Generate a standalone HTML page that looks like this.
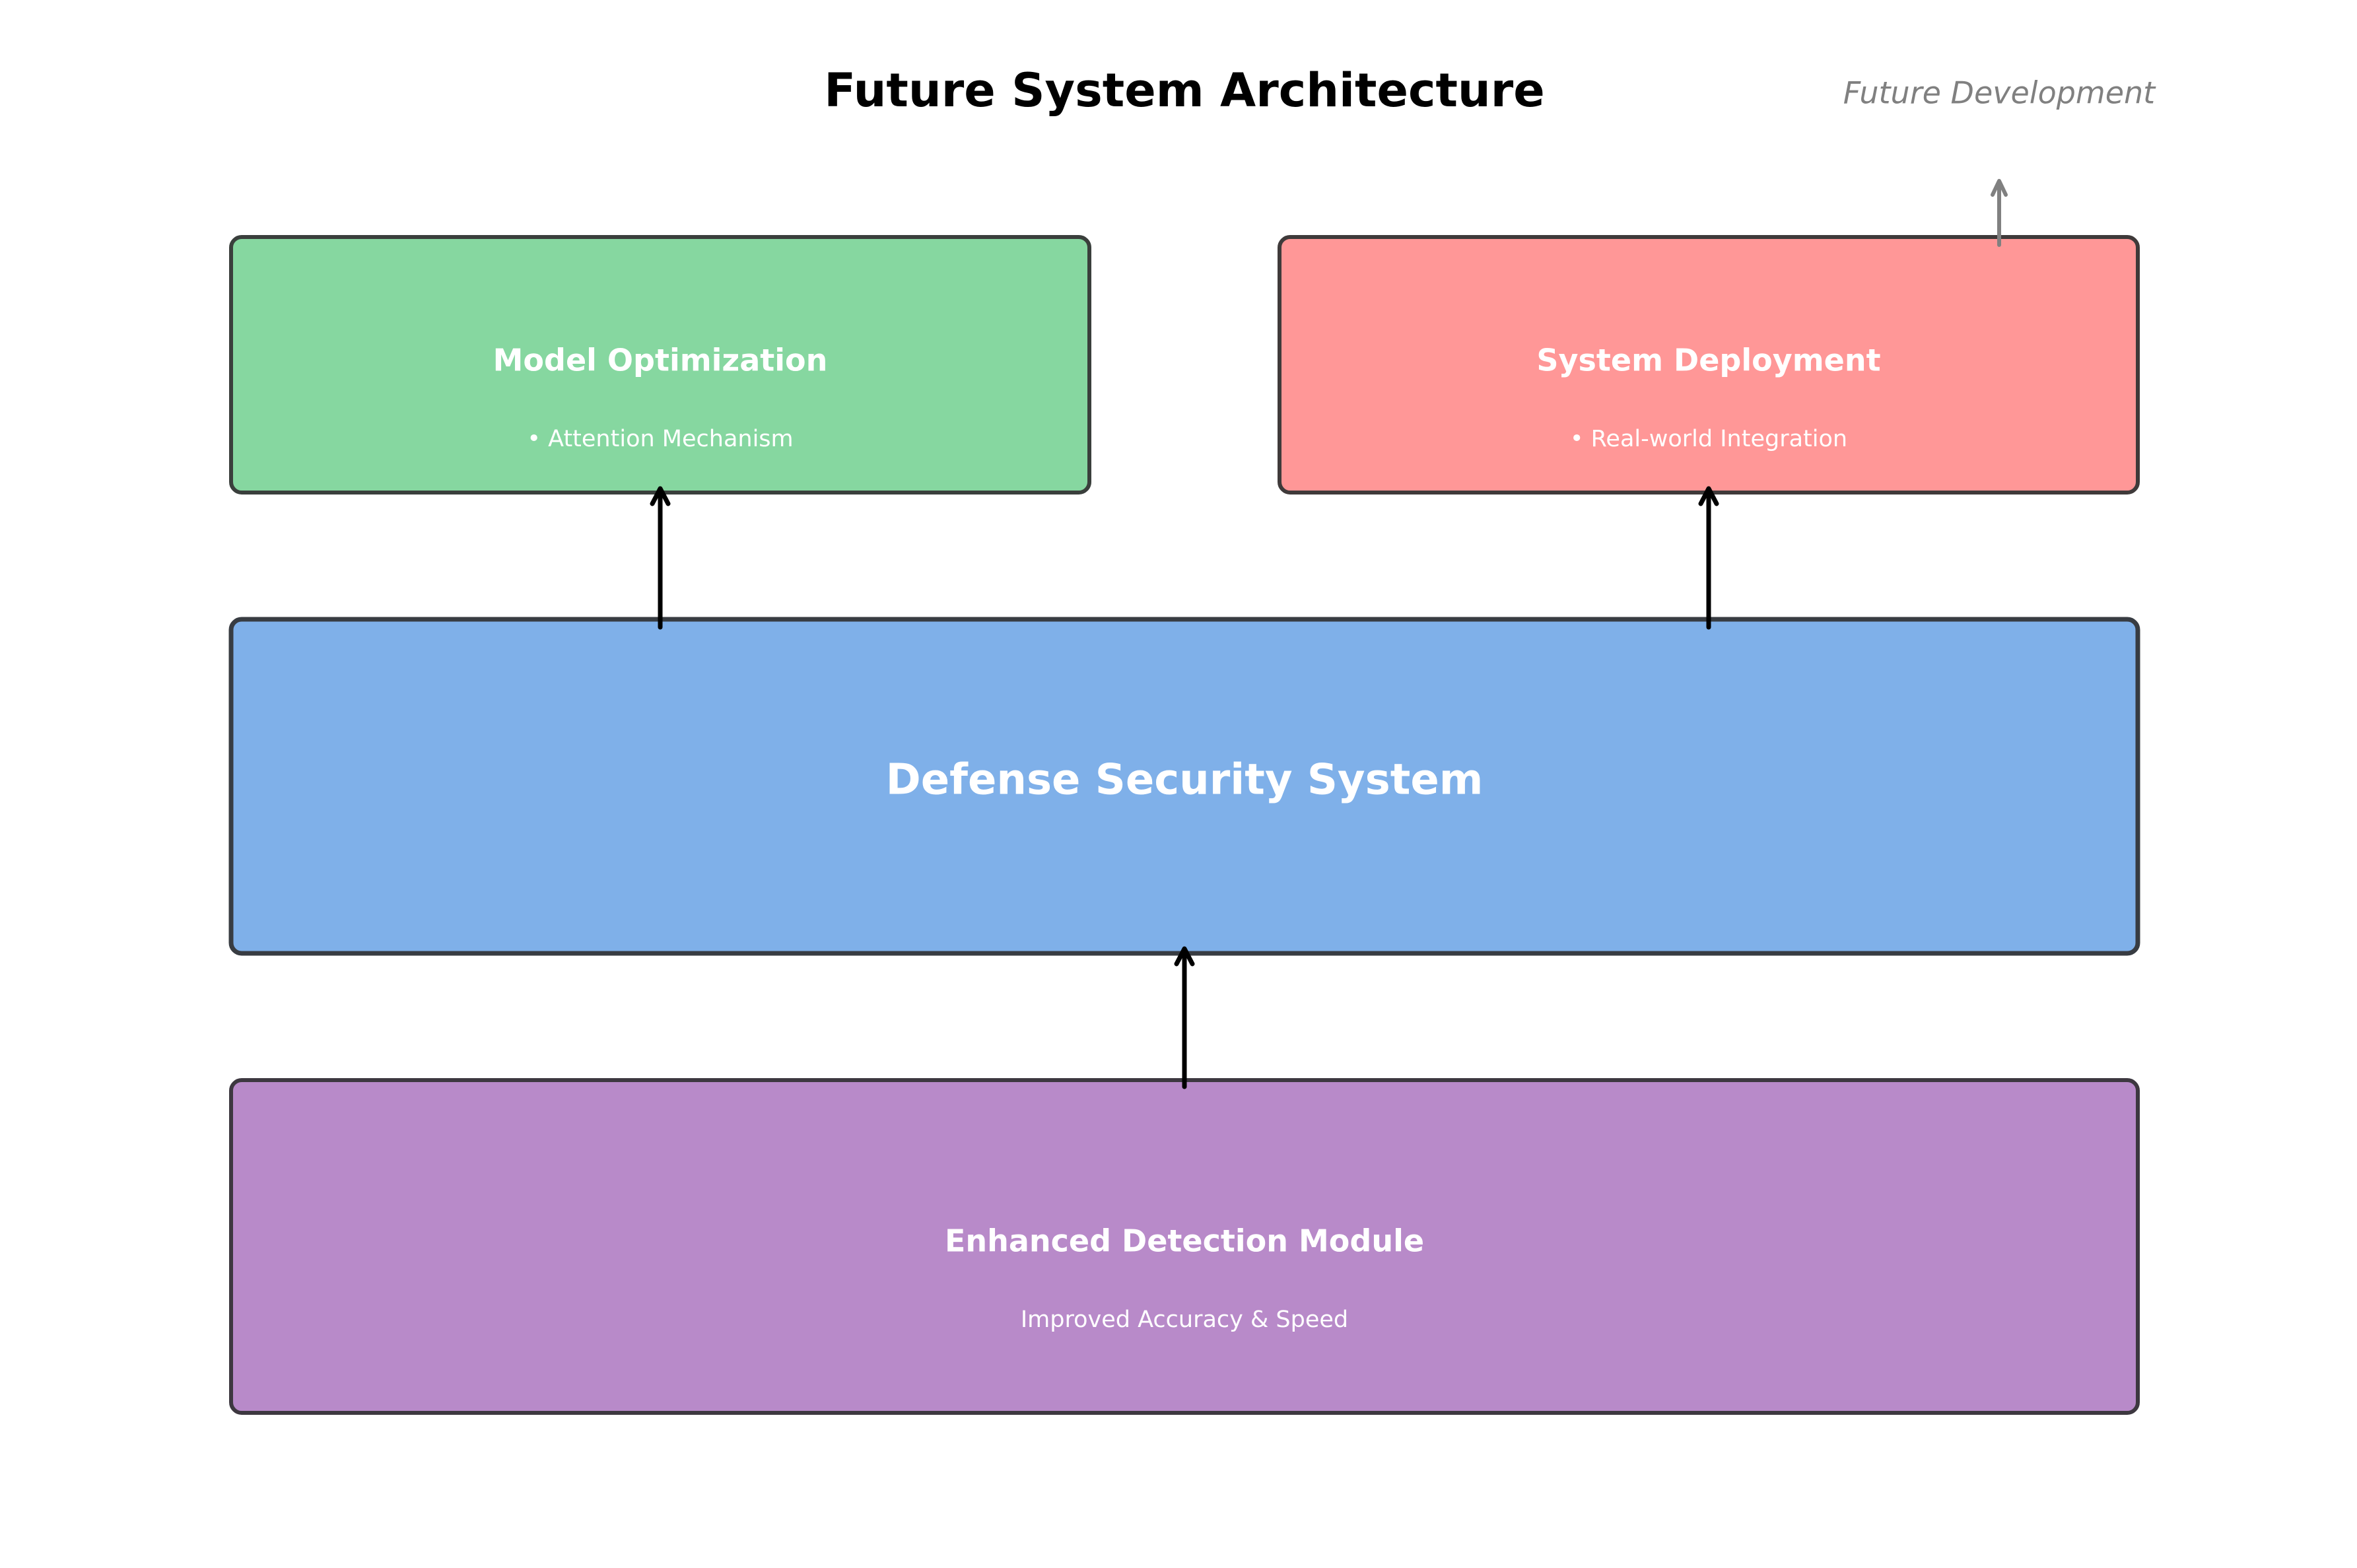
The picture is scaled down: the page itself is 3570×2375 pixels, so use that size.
<!DOCTYPE html>
<html><head><meta charset="utf-8"><style>html,body{margin:0;padding:0;background:#fff}</style></head>
<body>
<svg width="3570" height="2370" viewBox="0 0 3570 2370" xmlns="http://www.w3.org/2000/svg" font-family="DejaVu Sans, Liberation Sans, sans-serif">
<defs>
<marker id="ah" markerWidth="10" markerHeight="10" refX="5" refY="5" orient="auto" markerUnits="userSpaceOnUse" viewBox="0 0 10 10">
</marker>
</defs>
<rect width="3570" height="2370" fill="#fff"/>
<text x="1794" y="142" text-anchor="middle" dominant-baseline="middle" font-size="70" font-weight="bold" fill="#000">Future System Architecture</text>
<text x="3028" y="144" text-anchor="middle" dominant-baseline="middle" font-size="46" font-style="italic" fill="#808080">Future Development</text>

<rect x="350" y="359" width="1300" height="387" rx="16" fill="#86d7a0" stroke="#3a3f3c" stroke-width="6"/>
<rect x="1938" y="359" width="1300" height="387" rx="16" fill="#ff9797" stroke="#3f3a3a" stroke-width="6"/>
<rect x="350" y="938" width="2888" height="506" rx="16" fill="#7fb0e9" stroke="#383c42" stroke-width="7"/>
<rect x="350" y="1636" width="2888" height="504" rx="16" fill="#b88ac9" stroke="#3d3840" stroke-width="6"/>

<text x="1000" y="549" text-anchor="middle" dominant-baseline="middle" font-size="46" font-weight="bold" fill="#fff">Model Optimization</text>
<text x="1000" y="666" text-anchor="middle" dominant-baseline="middle" font-size="35" fill="#fff">• Attention Mechanism</text>
<text x="2588" y="549" text-anchor="middle" dominant-baseline="middle" font-size="46" font-weight="bold" fill="#fff">System Deployment</text>
<text x="2588" y="666" text-anchor="middle" dominant-baseline="middle" font-size="35" fill="#fff">• Real-world Integration</text>
<text x="1794" y="1185" text-anchor="middle" dominant-baseline="middle" font-size="64" font-weight="bold" fill="#fff">Defense Security System</text>
<text x="1794" y="1883" text-anchor="middle" dominant-baseline="middle" font-size="46" font-weight="bold" fill="#fff">Enhanced Detection Module</text>
<text x="1794" y="2000" text-anchor="middle" dominant-baseline="middle" font-size="35" fill="#fff">Improved Accuracy &amp; Speed</text>

<g stroke="#000" stroke-width="7" stroke-linecap="round" stroke-linejoin="round" fill="none">
<line x1="1000" y1="950" x2="1000" y2="742"/><polyline points="988,763 1000,740 1012,763"/>
<line x1="2588" y1="950" x2="2588" y2="742"/><polyline points="2576,763 2588,740 2600,763"/>
<line x1="1794" y1="1646" x2="1794" y2="1439"/><polyline points="1782,1460 1794,1437 1806,1460"/>
</g>
<g stroke="#808080" stroke-width="6" stroke-linecap="round" stroke-linejoin="round" fill="none">
<line x1="3028" y1="371" x2="3028" y2="276"/><polyline points="3018,295 3028,274 3038,295"/>
</g>
</svg>
</body></html>
